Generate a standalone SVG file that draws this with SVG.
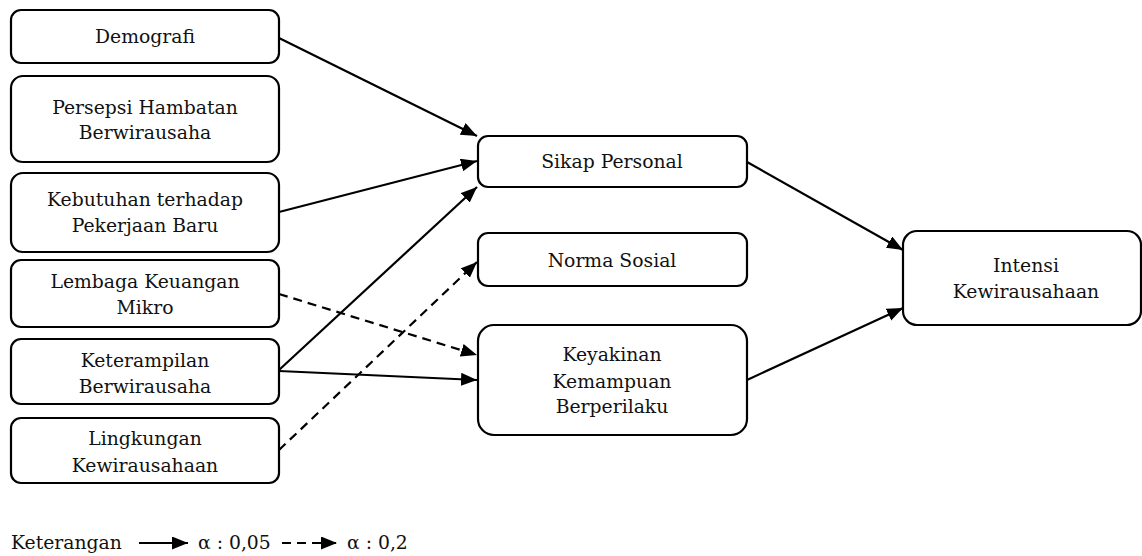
<svg xmlns="http://www.w3.org/2000/svg" width="1142" height="556" viewBox="0 0 1142 556">
<style>
.box{fill:#fff;stroke:#000;stroke-width:2.2}
text{font-family:"DejaVu Serif","Liberation Serif",serif;font-size:18.8px;fill:#111;text-anchor:middle}
.c{fill:none;stroke:#000;stroke-width:2.2}
.d{stroke-dasharray:9,6}
.lg{text-anchor:start}
</style>
<defs>
<marker id="ah" markerUnits="userSpaceOnUse" markerWidth="18" markerHeight="14" refX="16" refY="6.5" orient="auto">
<path d="M0,0 L16,6.5 L0,13 Z" fill="#000"/>
</marker>
</defs>
<g id="n-demografi"><rect class="box" x="11" y="10" width="268" height="53" rx="10"/><text x="145" y="43">Demografi</text></g>
<g id="n-persepsi"><rect class="box" x="11" y="76" width="268" height="86" rx="12"/><text x="145" y="114">Persepsi Hambatan</text><text x="145" y="139">Berwirausaha</text></g>
<g id="n-kebutuhan"><rect class="box" x="11" y="173" width="268" height="79" rx="12"/><text x="145" y="206">Kebutuhan terhadap</text><text x="145" y="232">Pekerjaan Baru</text></g>
<g id="n-lembaga"><rect class="box" x="11" y="260" width="268" height="67" rx="10"/><text x="145" y="288">Lembaga Keuangan</text><text x="145" y="314">Mikro</text></g>
<g id="n-keterampilan"><rect class="box" x="11" y="339" width="268" height="65" rx="10"/><text x="145" y="367">Keterampilan</text><text x="145" y="393">Berwirausaha</text></g>
<g id="n-lingkungan"><rect class="box" x="11" y="418" width="268" height="65" rx="10"/><text x="145" y="445">Lingkungan</text><text x="145" y="472">Kewirausahaan</text></g>
<g id="n-sikap"><rect class="box" x="478" y="136" width="269" height="51" rx="10"/><text x="612" y="168">Sikap Personal</text></g>
<g id="n-norma"><rect class="box" x="478" y="233" width="269" height="53" rx="10"/><text x="612" y="267">Norma Sosial</text></g>
<g id="n-keyakinan"><rect class="box" x="478" y="325" width="269" height="110" rx="16"/><text x="612" y="361">Keyakinan</text><text x="612" y="388">Kemampuan</text><text x="612" y="413">Berperilaku</text></g>
<g id="n-intensi"><rect class="box" x="903" y="231" width="238" height="94" rx="14"/><text x="1026" y="272">Intensi</text><text x="1026" y="298">Kewirausahaan</text></g>
<g id="connectors">
<line class="c" x1="279" y1="38" x2="477" y2="136" marker-end="url(#ah)"/>
<line class="c" x1="279" y1="212" x2="477" y2="161" marker-end="url(#ah)"/>
<line class="c" x1="279" y1="370" x2="477" y2="187" marker-end="url(#ah)"/>
<line class="c" x1="279" y1="371" x2="477" y2="380" marker-end="url(#ah)"/>
<line class="c d" x1="279" y1="294" x2="477" y2="355" marker-end="url(#ah)"/>
<line class="c d" x1="279" y1="450" x2="477" y2="262" marker-end="url(#ah)"/>
<line class="c" x1="747" y1="162" x2="903" y2="250" marker-end="url(#ah)"/>
<line class="c" x1="747" y1="380" x2="903" y2="308" marker-end="url(#ah)"/>
</g>
<g id="legend">
<text class="lg" x="11" y="549">Keterangan</text>
<line class="c" x1="139" y1="543" x2="188" y2="543" marker-end="url(#ah)"/>
<text class="lg" x="198" y="549">α : 0,05</text>
<line class="c d" x1="282" y1="543" x2="337" y2="543" stroke-dasharray="7,6" marker-end="url(#ah)"/>
<text class="lg" x="347" y="549">α  : 0,2</text>
</g>
</svg>
